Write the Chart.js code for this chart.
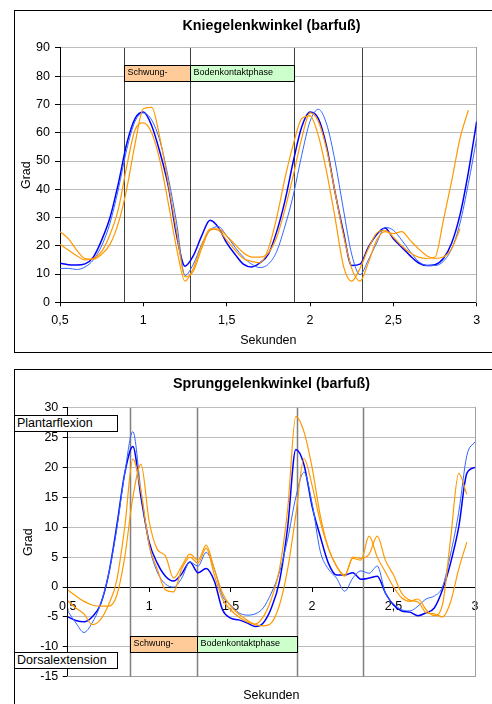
<!DOCTYPE html>
<html>
<head>
<meta charset="utf-8">
<script src="https://cdn.jsdelivr.net/npm/chart.js@4"></script>
<style>
  html, body { margin: 0; padding: 0; background: #fff; width: 492px; height: 704px; overflow: hidden; }
  .frame { position: absolute; left: 14px; border: 1px solid #000; background: #fff; }
  #kneeFrame { top: 10px; }
  #ankleFrame { top: 369px; border-bottom: none; }
  canvas { display: block; }
  .note {
    position: absolute; left: 14px; width: 104px; height: 17px; box-sizing: border-box;
    border: 1px solid #000; background: #fff; z-index: 2;
    font: 12.5px "Liberation Sans", Arial, sans-serif; line-height: 15px; padding-left: 2px; color: #000;
  }
</style>
</head>
<body>
<div class="frame" id="kneeFrame"><canvas id="knee" width="513" height="341"></canvas></div>
<div class="frame" id="ankleFrame"><canvas id="ankle" width="513" height="334"></canvas></div>
<div class="note" style="top:415px">Plantarflexion</div>
<div class="note" style="top:652px">Dorsalextension</div>
<script>
// time in seconds, shared by every series
const time = [0.50, 0.55, 0.60, 0.65, 0.70, 0.75, 0.80, 0.85, 0.90, 0.95,
  1.00, 1.05, 1.10, 1.15, 1.20, 1.25, 1.30, 1.35, 1.40, 1.45,
  1.50, 1.55, 1.60, 1.65, 1.70, 1.75, 1.80, 1.85, 1.90, 1.95,
  2.00, 2.05, 2.10, 2.15, 2.20, 2.25, 2.30, 2.35, 2.40, 2.45,
  2.50, 2.55, 2.60, 2.65, 2.70, 2.75, 2.80, 2.85, 2.90, 2.95, 3.00];

const xTickLabels = ['0,5', '1', '1,5', '2', '2,5', '3'];

// Kniegelenkwinkel
const kneeDark = [13.8, 13.3, 13.2, 13.6, 16, 22, 30, 42, 56, 65,
  67.3, 62.5, 53, 41, 23.5, 12.8, 16.5, 23.5, 29, 26.5,
  21, 17, 13.5, 12.5, 14, 17, 25, 36, 50, 62,
  67.3, 65, 55, 39, 25, 13, 13.5, 19.5, 24, 26.3,
  22.5, 19.5, 16.5, 14, 13, 13.3, 15.5, 21, 31, 46, 64];
const kneeLight = [12, 12, 11.6, 12.5, 15, 20, 28, 40, 54, 64,
  67, 64.5, 57, 44, 28, 9.5, 13.5, 20.5, 25.5, 26.8,
  23.5, 19.5, 16, 13.5, 12.3, 13.5, 18, 27, 38, 52,
  64, 68.3, 63, 50, 33, 17, 9.8, 15, 21, 26.5,
  25.5, 22, 18, 14.5, 13, 13, 14.5, 19, 28, 42, 58];
const kneeOrangeA = [25, 22.5, 18.5, 15.5, 15.3, 17, 20.5, 28, 40, 56,
  68.5, 69, 58, 42, 25, 9, 11, 19, 25.5, 26,
  23.5, 20.5, 17.5, 16, 16, 17.5, 23, 33, 45, 58,
  67, 64, 54, 39, 24, 12, 7.5, 14, 22, 25,
  24.3, 25, 22, 19, 16.5, 15.5, 16, 19, 26, null, null];
const kneeOrangeB = [20.5, 18.5, 16.5, 15, 15.5, 18, 24, 33, 48, 61,
  63.5, 60, 50, 35, 19, 7.5, 12, 20, 26, 25.5,
  22, 18.5, 15.5, 14.5, 14, 19, 30, 44, 56, 65,
  66, 59, 46, 30, 13, 7.5, 12, 19, 24.5, 25.5,
  23, 20, 17.5, 16, 15.5, 16, 29, 43, 58, 68, null];
const kneePhaseLines = [0.886, 1.28, 1.906, 2.31];

// Sprunggelenkwinkel
const ankleDark = [-5, -5.6, -5.8, -5, -3, 2, 10, 19, 23.5, 15,
  7.5, 4, 1.8, 1.0, 2.2, 4.2, 2.4, 3.1, 1, -3.8,
  -5.2, -5.5, -6, -6.6, -6, -3.5, 1, 10, 23, 20.5,
  13.5, 8.5, 4, 2, 2, 2.4, 1.3, 1.5, 1.8, -1,
  -3, -4, -4.2, -4.8, -4.3, -3.5, -0.5, 4, 10, 19, 20];
const ankleLight = [-4, -6, -7.6, -6, -3, 2, 9.5, 19, 26, 16,
  7, 2.5, 0.5, 0, 1.5, 4.2, 3.5, 5.8, 3, -1.5,
  -3, -4.3, -4.7, -4.5, -3.5, -1, 2.5, 8, 15, 19.2,
  14, 6, 3, 1.5, -0.7, 1.5, 2.7, 2.3, 3.5, -1,
  -2.8, -3.8, -4, -3.2, -2, -1.5, 0, 5.5, 12.5, 22, 24.3];
const ankleOrangeC = [-0.5, -1.5, -2.4, -3.0, -3.2, -3.2, -1.5, 5, 15, 20.5,
  11, 6.3, 5.2, 1.5, 3.5, 5.5, 4.5, 7, 3, -1,
  -3.2, -4.5, -5.5, -6.2, -5, -2, 3, 13, 28.5, 26,
  20, 12, 6.5, 3.5, 2.0, 4.8, 4.5, 8.5, 5, 2.5,
  0, -1.8, -2.4, -2, -3.8, -4.8, -3, 8, 19, 15.5, null];
const ankleOrangeD = [-2.3, -3.5, -4.5, -6.3, -5.5, -3, 1, 10, 21.4, 16,
  7, 3, -0.5, -0.8, 3, 5, 4, 6.5, 2, -2,
  -3.8, -5, -5.8, -6.3, -6.5, -6, -3, 3, 12, 21.5,
  17, 11, 6.5, 3.5, 1.8, 5, 4.8, 5.5, 8.5, 4.5,
  2, -1, -2.2, -2.5, -4.3, -4.5, -5, -2.5, 3, 7.5, null];
const anklePhaseLines = [0.88, 1.296, 1.906, 2.313];

const FONT = '"Liberation Sans", Arial, sans-serif';

const toPoints = (vals) => time.map((t, i) => ({ x: t, y: vals[i] }));

const series = (vals, color, width) => ({
  data: toPoints(vals),
  borderColor: color,
  borderWidth: width,
  pointRadius: 0,
  fill: false,
  cubicInterpolationMode: 'monotone',
  spanGaps: false,
});

// vertical phase lines and the Schwung-/Bodenkontaktphase boxes
const phasePlugin = {
  id: 'phases',
  beforeDatasetsDraw(chart, args, opts) {
    const { ctx, chartArea, scales: { x } } = chart;
    ctx.save();
    ctx.strokeStyle = opts.lineColor;
    ctx.lineWidth = opts.lineWidth;
    opts.lines.forEach((t) => {
      const px = Math.round(x.getPixelForValue(t)) + 0.5;
      ctx.beginPath();
      ctx.moveTo(px, chartArea.top);
      ctx.lineTo(px, chartArea.bottom);
      ctx.stroke();
    });
    ctx.restore();
  },
  afterDatasetsDraw(chart, args, opts) {
    const { ctx, scales: { x, y } } = chart;
    const l = opts.lines;
    const boxes = [
      { from: l[0], to: l[1], text: 'Schwung-', fill: '#ffcc99' },
      { from: l[1], to: l[2], text: 'Bodenkontaktphase', fill: '#ccffcc' },
    ];
    const top = Math.round(y.getPixelForValue(opts.boxTop)) + 0.5;
    const bottom = Math.round(y.getPixelForValue(opts.boxBottom)) + 0.5;
    ctx.save();
    ctx.font = '9px ' + FONT;
    ctx.textBaseline = 'middle';
    boxes.forEach((b) => {
      const left = Math.round(x.getPixelForValue(b.from)) + 0.5;
      const right = Math.round(x.getPixelForValue(b.to)) + 0.5;
      ctx.fillStyle = b.fill;
      ctx.fillRect(left, top, right - left, bottom - top);
      ctx.strokeStyle = '#000';
      ctx.lineWidth = 1;
      ctx.strokeRect(left, top, right - left, bottom - top);
      ctx.fillStyle = '#000';
      ctx.fillText(b.text, left + 3, (top + bottom) / 2 - 1);
    });
    ctx.restore();
  },
};

function makeChart(id, cfg) {
  const xTicks = {
    color: '#000',
    font: { family: FONT, size: 12.5 },
    padding: cfg.xTickPad,
    autoSkip: false,
    maxRotation: 0,
    callback: (v, i) => xTickLabels[i],
  };
  const scales = {
    x: {
      type: 'linear', min: 0.5, max: 3,
      position: cfg.xAtZero ? { y: 0 } : 'bottom',
      ticks: { ...xTicks, stepSize: 0.5 },
      grid: { drawOnChartArea: false, tickLength: 4, tickColor: '#000' },
      border: { color: '#000', width: 1 },
      title: cfg.xAtZero ? { display: false } : {
        display: true, text: 'Sekunden', color: '#000',
        font: { family: FONT, size: 12.5 }, padding: { top: 0, bottom: cfg.xTitlePad },
      },
      afterFit: (s) => { if (!cfg.xAtZero) s.height = cfg.xHeight; },
    },
    y: {
      min: cfg.yMin, max: cfg.yMax,
      ticks: { stepSize: cfg.yStep, color: '#000', font: { family: FONT, size: 12.5 }, padding: cfg.yTickPad },
      grid: { color: '#bcbcbc', lineWidth: 1, tickLength: 5, tickColor: '#000' },
      border: { color: '#000', width: 1 },
      title: {
        display: true, text: 'Grad', color: '#000',
        font: { family: FONT, size: 12.5 }, padding: { top: cfg.yTitlePad, bottom: 0 },
      },
      afterFit: (s) => { s.width = cfg.yWidth; },
    },
    y2: {
      type: 'linear', position: 'right',
      ticks: { display: false },
      grid: { display: false },
      border: { color: '#a0a0a0', width: 1 },
      afterFit: (s) => { s.width = cfg.rightWidth; },
    },
  };
  if (cfg.xAtZero) {
    scales.x2 = {
      type: 'linear', axis: 'x', position: 'bottom', min: 0.5, max: 3,
      ticks: { display: false },
      grid: { display: false },
      border: { color: '#a0a0a0', width: 1 },
      title: {
        display: true, text: 'Sekunden', color: '#000',
        font: { family: FONT, size: 12.5 }, padding: { top: 0, bottom: cfg.xTitlePad },
      },
      afterFit: (s) => { s.height = cfg.xHeight; },
    };
  }

  return new Chart(document.getElementById(id), {
    type: 'line',
    data: {
      datasets: [
        series(cfg.data[2], '#ff9900', 1.2),
        series(cfg.data[3], '#ff9900', 1.2),
        series(cfg.data[1], '#3366ff', 1),
        series(cfg.data[0], '#0000ff', 1.5),
      ],
    },
    plugins: [phasePlugin],
    options: {
      responsive: false,
      animation: false,
      devicePixelRatio: 1,
      layout: { padding: 0 },
      plugins: {
        legend: { display: false },
        tooltip: { enabled: false },
        title: {
          display: true, text: cfg.title, color: '#000',
          font: { family: FONT, size: 14.3, weight: 'bold' },
          padding: { top: cfg.titleTop, bottom: cfg.titleBottom },
        },
        phases: {
          lines: cfg.phaseLines, lineColor: cfg.phaseColor, lineWidth: cfg.phaseWidth,
          boxTop: cfg.boxTop, boxBottom: cfg.boxBottom,
        },
      },
      scales,
    },
  });
}

makeChart('knee', {
  title: 'Kniegelenkwinkel (barfuß)',
  data: [kneeDark, kneeLight, kneeOrangeA, kneeOrangeB],
  phaseLines: kneePhaseLines, phaseColor: '#404040', phaseWidth: 1,
  boxTop: 84, boxBottom: 78.4,
  yMin: 0, yMax: 90, yStep: 10,
  titleTop: 6.5, titleBottom: 13.3,
  yWidth: 45, rightWidth: 51.3, xHeight: 49.7,
  yTickPad: 5, xTickPad: 7, yTitlePad: 4, xTitlePad: 4,
  xAtZero: false,
});

makeChart('ankle', {
  title: 'Sprunggelenkwinkel (barfuß)',
  data: [ankleDark, ankleLight, ankleOrangeC, ankleOrangeD],
  phaseLines: anklePhaseLines, phaseColor: '#808080', phaseWidth: 1.5,
  boxTop: -8.26, boxBottom: -10.87,
  yMin: -15, yMax: 30, yStep: 5,
  titleTop: 5.5, titleBottom: 15,
  yWidth: 52.7, rightWidth: 53, xHeight: 27.3,
  yTickPad: 4.4, xTickPad: 8, yTitlePad: 6, xTitlePad: 1,
  xAtZero: true,
});
</script>
</body>
</html>
